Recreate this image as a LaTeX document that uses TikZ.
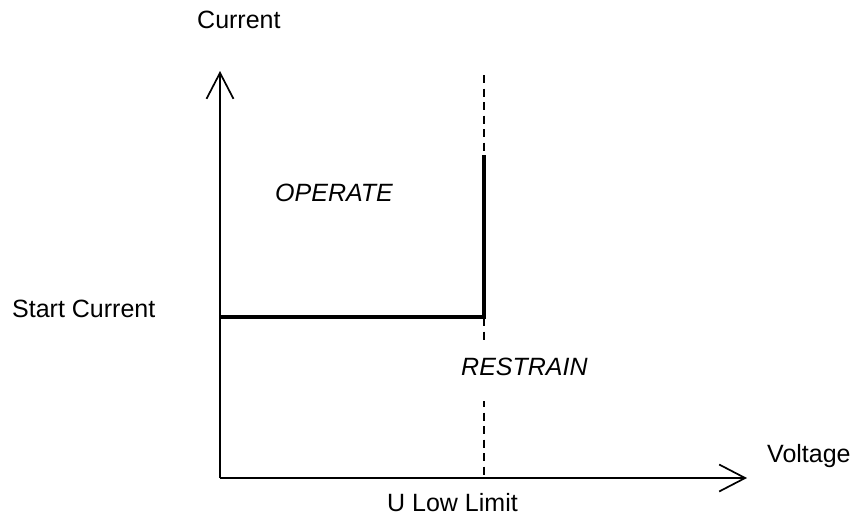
\documentclass[tikz,border=0pt]{standalone}
\usepackage{fontspec}
\setmainfont{Liberation Sans}
\usetikzlibrary{arrows.meta}
\begin{document}
\begin{tikzpicture}[x=1pt,y=-1pt,
  lbl/.style={inner sep=0pt,anchor=base west,font=\fontsize{25}{30}\selectfont},
  ilbl/.style={lbl,font=\fontsize{25}{30}\selectfont\itshape},
  axis/.style={line width=1.7pt,-{Straight Barb[length=26pt,width=27pt,line width=1.7pt]}},
  thick line/.style={line width=3.2pt},
  limit/.style={line width=1.6pt,dash pattern=on 8pt off 5.5pt}]
\useasboundingbox (0,0) rectangle (859,520);
\coordinate (O) at (220,478);
\coordinate (ytip) at (220,71);
\coordinate (xtip) at (747,478);
\coordinate (dtop) at (484,75);
\coordinate (dbot) at (484,478);
\coordinate (s) at (220,317);
\coordinate (c) at (484,317);
\coordinate (vtop) at (484,155);
\draw[axis] (O) -- (ytip);
\draw[axis] (O) -- (xtip);
\draw[limit] (dtop) -- (dbot);
\draw[thick line] (s) -- (c) -- (vtop);
\node[lbl] (cur) at (197,28) {Current};
\node[lbl] (start) at (12,317) {Start Current};
\node[ilbl] (op) at (275,201) {OPERATE};
\node[ilbl,fill=white,text height=33pt,text depth=26pt] (re) at (461,375) {RESTRAIN};
\node[lbl] (volt) at (767,462) {Voltage};
\node[lbl] (ulow) at (387,511) {U Low Limit};
\end{tikzpicture}
\end{document}
